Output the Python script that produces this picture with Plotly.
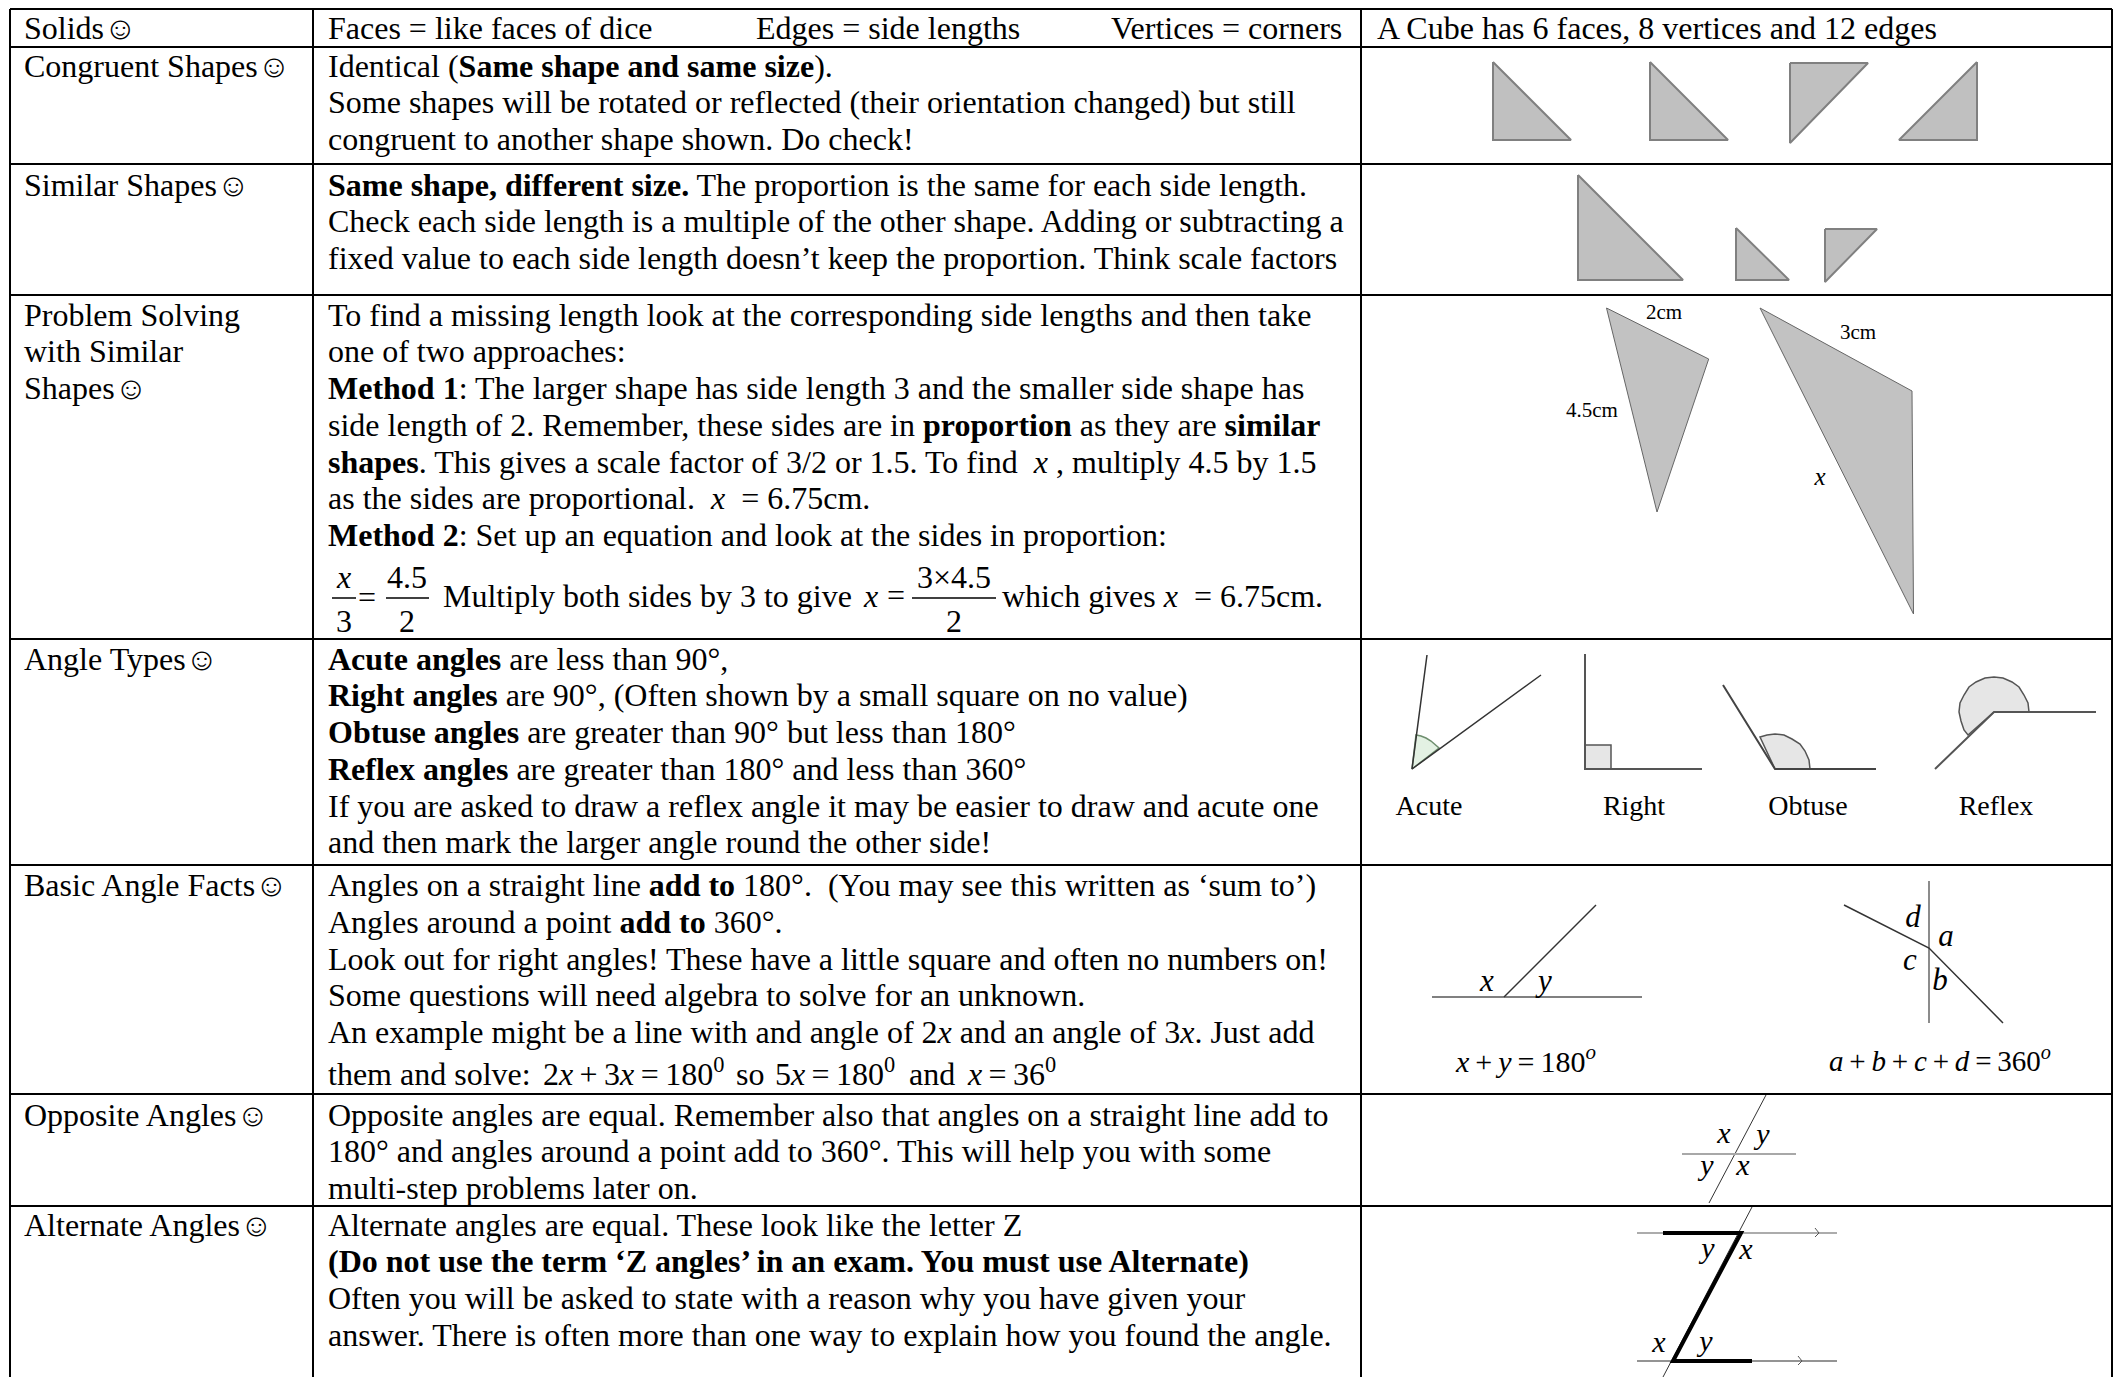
"""Revision sheet table: solids, shapes and angle facts, drawn on a pixel-like axis."""
import plotly.graph_objects as go

SERIF = "Liberation Serif"
INK = "#000000"
NB = "\u00a0"
TH = "\u2009"
SMILE = "\u263a"

# table grid
COL_EDGES = [10, 313, 1361, 2112]
ROW_EDGES = [9, 47, 164, 295, 639, 865, 1094, 1206]
PAGE_BOTTOM = 1377

# first text line of each row, and the line pitch
ROW_FIRST_LINE = [30.5, 68.5, 187.5, 317.5, 661.5, 888, 1117.5, 1227.5]
LINE_PITCH = 36.75

ROW_LABELS = [
    ["Solids" + SMILE],
    ["Congruent Shapes" + SMILE],
    ["Similar Shapes" + SMILE],
    ["Problem Solving", "with Similar", "Shapes" + SMILE],
    ["Angle Types" + SMILE],
    ["Basic Angle Facts" + SMILE],
    ["Opposite Angles" + SMILE],
    ["Alternate Angles" + SMILE],
]

ROW_LINES = [
    ["Faces = like faces of dice"],
    ["Identical (<b>Same shape and same size</b>).",
     "Some shapes will be rotated or reflected (their orientation changed) but still",
     "congruent to another shape shown. Do check!"],
    ["<b>Same shape, different size.</b> The proportion is the same for each side length.",
     "Check each side length is a multiple of the other shape. Adding or subtracting a",
     "fixed value to each side length doesn\u2019t keep the proportion. Think scale factors"],
    ["To find a missing length look at the corresponding side lengths and then take",
     "one of two approaches:",
     "<b>Method 1</b>: The larger shape has side length 3 and the smaller side shape has",
     "side length of 2. Remember, these sides are in <b>proportion</b> as they are <b>similar</b>",
     f"<b>shapes</b>. This gives a scale factor of 3/2 or 1.5. To find {NB}<i>x</i>{NB}, multiply 4.5 by 1.5",
     f"as the sides are proportional. {NB}<i>x</i>{NB} = 6.75cm.",
     "<b>Method 2</b>: Set up an equation and look at the sides in proportion:"],
    ["<b>Acute angles</b> are less than 90\u00b0,",
     "<b>Right angles</b> are 90\u00b0, (Often shown by a small square on no value)",
     "<b>Obtuse angles</b> are greater than 90\u00b0 but less than 180\u00b0",
     "<b>Reflex angles</b> are greater than 180\u00b0 and less than 360\u00b0",
     "If you are asked to draw a reflex angle it may be easier to draw and acute one",
     "and then mark the larger angle round the other side!"],
    [f"Angles on a straight line <b>add to</b> 180\u00b0. {NB}(You may see this written as \u2018sum to\u2019)",
     "Angles around a point <b>add to</b> 360\u00b0.",
     "Look out for right angles! These have a little square and often no numbers on!",
     "Some questions will need algebra to solve for an unknown.",
     "An example might be a line with and angle of 2<i>x</i> and an angle of 3<i>x</i>. Just add"],
    ["Opposite angles are equal. Remember also that angles on a straight line add to",
     "180\u00b0 and angles around a point add to 360\u00b0. This will help you with some",
     "multi-step problems later on."],
    ["Alternate angles are equal. These look like the letter Z",
     "<b>(Do not use the term \u2018Z angles\u2019 in an exam. You must use Alternate)</b>",
     "Often you will be asked to state with a reason why you have given your",
     "answer. There is often more than one way to explain how you found the angle."],
]

# loose text: (x, y, text), left aligned, body size
LOOSE_TEXT = [
    (756, 30.5, "Edges = side lengths"),
    (1111, 30.5, "Vertices = corners"),
    (1377, 30.5, "A Cube has 6 faces, 8 vertices and 12 edges"),
    (443, 599, "Multiply both sides by 3 to give"),
    (1002, 599, f"which gives <i>x</i>{NB} = 6.75cm."),
    (328, 1077, "them and solve:"),
    (543, 1077, f"2<i>x</i>{TH}+{TH}3<i>x</i>{TH}={TH}180<sup>0</sup>"),
    (736, 1077, "so"),
    (775, 1077, f"5<i>x</i>{TH}={TH}180<sup>0</sup>"),
    (909, 1077, "and"),
    (968, 1077, f"<i>x</i>{TH}={TH}36<sup>0</sup>"),
]

# centred pieces of the two fractions
FRACTION_TEXT = [
    (344, 580, "<i>x</i>"), (344, 624, "3"), (367, 600, "="),
    (407, 580, "4.5"), (407, 624, "2"),
    (871, 599, "<i>x</i>"), (896, 598, "="),
    (954, 580, "3\u00d74.5"), (954, 624, "2"),
]
FRACTION_BARS = [(332, 356, 598), (386, 429, 598), (912, 996, 598)]

# triangles in the right hand column
GREY_TRIANGLES = [
    ([1493, 1493, 1571], [62, 140, 140]),
    ([1650, 1650, 1728], [62, 140, 140]),
    ([1790, 1868, 1790], [63, 63, 143]),
    ([1977, 1977, 1899], [62, 140, 140]),
    ([1578, 1578, 1683], [175, 280, 280]),
    ([1736, 1736, 1789], [228, 280, 280]),
    ([1825, 1877, 1825], [229, 229, 282]),
]
THIN_TRIANGLES = [
    ([1606.5, 1708.7, 1657], [308, 359, 512]),
    ([1760, 1912, 1913.5], [308, 391, 614]),
]
DIAGRAM_LABELS = [
    (1664, 314, "2cm", 21), (1858, 334, "3cm", 21), (1592, 412, "4.5cm", 21), (1820, 479, "<i>x</i>", 25),
    (1429, 808, "Acute", 28), (1634, 808, "Right", 28), (1808, 808, "Obtuse", 28), (1996, 808, "Reflex", 28),
    (1487, 983, "<i>x</i>", 31), (1545, 983, "<i>y</i>", 31),
    (1526, 1064, f"<i>x</i>{TH}+{TH}<i>y</i>{TH}={TH}180<sup><i>o</i></sup>", 30),
    (1913, 919, "<i>d</i>", 31), (1946, 938, "<i>a</i>", 31), (1910, 962, "<i>c</i>", 31), (1940, 982, "<i>b</i>", 31),
    (1940, 1064, f"<i>a</i>{TH}+{TH}<i>b</i>{TH}+{TH}<i>c</i>{TH}+{TH}<i>d</i>{TH}={TH}360<sup><i>o</i></sup>", 29),
    (1724, 1135, "<i>x</i>", 30), (1763, 1136, "<i>y</i>", 30), (1707, 1167, "<i>y</i>", 30), (1743, 1167, "<i>x</i>", 30),
    (1708, 1250, "<i>y</i>", 30), (1746, 1251, "<i>x</i>", 30), (1659, 1344, "<i>x</i>", 30), (1706, 1343, "<i>y</i>", 30),
]

# angle sketches: filled wedges first, then arms
ANGLE_WEDGES = [
    ([1412, 1416, 1421, 1426, 1431, 1436, 1439], [769, 735, 736, 738, 741, 745, 748], "#e3f1e3", "#6f8f6f"),
    ([1585, 1585, 1611, 1611], [769, 745, 745, 769], "#e6e6e6", "#555555"),
    ([1775, 1760, 1767, 1775, 1784, 1792, 1800, 1805, 1809, 1810],
     [769, 737, 735, 734, 735, 739, 744, 751, 760, 769], "#e6e6e6", "#555555"),
    ([1994, 1968, 1964, 1961, 1959, 1960, 1964, 1969, 1976, 1985, 1994, 2003, 2012, 2019, 2024, 2028, 2029],
     [712, 735, 730, 721, 712, 703, 695, 687, 682, 678, 677, 678, 682, 687, 695, 703, 712], "#e6e6e6", "#555555"),
]
THIN_LINES = [
    ([1427, 1412, 1541], [655, 769, 675], "#333333", 1.5),
    ([1585, 1585, 1702], [654, 769, 769], "#555555", 2),
    ([1723, 1775, 1876], [685, 769, 769], "#444444", 2),
    ([1935, 1994, 2096], [769, 712, 712], "#555555", 2),
    ([1432, 1642], [997, 997], "#808080", 2),
    ([1504, 1596], [997, 905], "#333333", 1.5),
    ([1929, 1929], [881, 1023], "#666666", 1.5),
    ([1844, 1929, 2003], [905, 948, 1023], "#333333", 1.5),
    ([1766, 1709], [1095, 1203], "#333333", 1),
    ([1682, 1796], [1154, 1154], "#a8a8a8", 2),
    ([1637, 1837], [1233, 1233], "#909090", 1.5),
    ([1637, 1837], [1361, 1361], "#707070", 1.5),
    ([1752, 1663], [1207, 1377], "#333333", 1),
    ([1815, 1819, 1815], [1228, 1233, 1237], "#555555", 1),
    ([1798, 1802, 1798], [1356, 1361, 1365], "#555555", 1),
]
THICK_Z = ([1663, 1741, 1673, 1752], [1233, 1233, 1361, 1361])


def add_text(fig, items, position="middle right", size=32):
    fig.add_trace(go.Scatter(
        x=[i[0] for i in items], y=[i[1] for i in items], text=[i[2] for i in items],
        mode="text", textposition=position, hoverinfo="skip",
        textfont=dict(family=SERIF, size=size, color=INK),
    ))


def add_line(fig, xs, ys, color, width, fill=None):
    fig.add_trace(go.Scatter(
        x=xs, y=ys, mode="lines", hoverinfo="skip",
        line=dict(color=color, width=width, shape="linear"),
        fill="toself" if fill else None, fillcolor=fill,
    ))


def build_grid(fig):
    left, right = COL_EDGES[0], COL_EDGES[-1]
    for y in ROW_EDGES:
        fig.add_shape(type="line", x0=left, x1=right, y0=y, y1=y, line=dict(color=INK, width=2))
    for x in COL_EDGES:
        fig.add_shape(type="line", x0=x, x1=x, y0=ROW_EDGES[0], y1=PAGE_BOTTOM, line=dict(color=INK, width=2))


def build_text(fig):
    rows = []
    for labels, lines, first in zip(ROW_LABELS, ROW_LINES, ROW_FIRST_LINE):
        rows += [(24, first + n * LINE_PITCH, t) for n, t in enumerate(labels)]
        rows += [(328, first + n * LINE_PITCH, t) for n, t in enumerate(lines)]
    add_text(fig, rows + LOOSE_TEXT)
    add_text(fig, FRACTION_TEXT, position="middle center")
    for x0, x1, y in FRACTION_BARS:
        add_line(fig, [x0, x1], [y, y], INK, 1.5)


def build_diagrams(fig):
    for xs, ys in GREY_TRIANGLES:
        add_line(fig, xs + xs[:1], ys + ys[:1], "#808080", 2, fill="#c0c0c0")
    for xs, ys in THIN_TRIANGLES:
        add_line(fig, xs + xs[:1], ys + ys[:1], "#666666", 1, fill="#c2c2c2")
    for xs, ys, fill, edge in ANGLE_WEDGES:
        add_line(fig, xs + xs[:1], ys + ys[:1], edge, 1.5, fill=fill)
    for xs, ys, color, width in THIN_LINES:
        add_line(fig, xs, ys, color, width)
    add_line(fig, THICK_Z[0], THICK_Z[1], INK, 4)
    for x, y, text, size in DIAGRAM_LABELS:
        add_text(fig, [(x, y, text)], position="middle center", size=size)


fig = go.Figure()
build_grid(fig)
build_diagrams(fig)
build_text(fig)
fig.update_layout(
    width=2114, height=1377, margin=dict(l=0, r=0, t=0, b=0),
    paper_bgcolor="white", plot_bgcolor="white", showlegend=False, hovermode=False,
)
fig.update_xaxes(range=[0, 2114], visible=False)
fig.update_yaxes(range=[1377, 0], visible=False)
fig.write_html("out.html", config={"displayModeBar": False},
               post_script="document.body.style.margin='0';document.body.style.overflow='hidden';")
